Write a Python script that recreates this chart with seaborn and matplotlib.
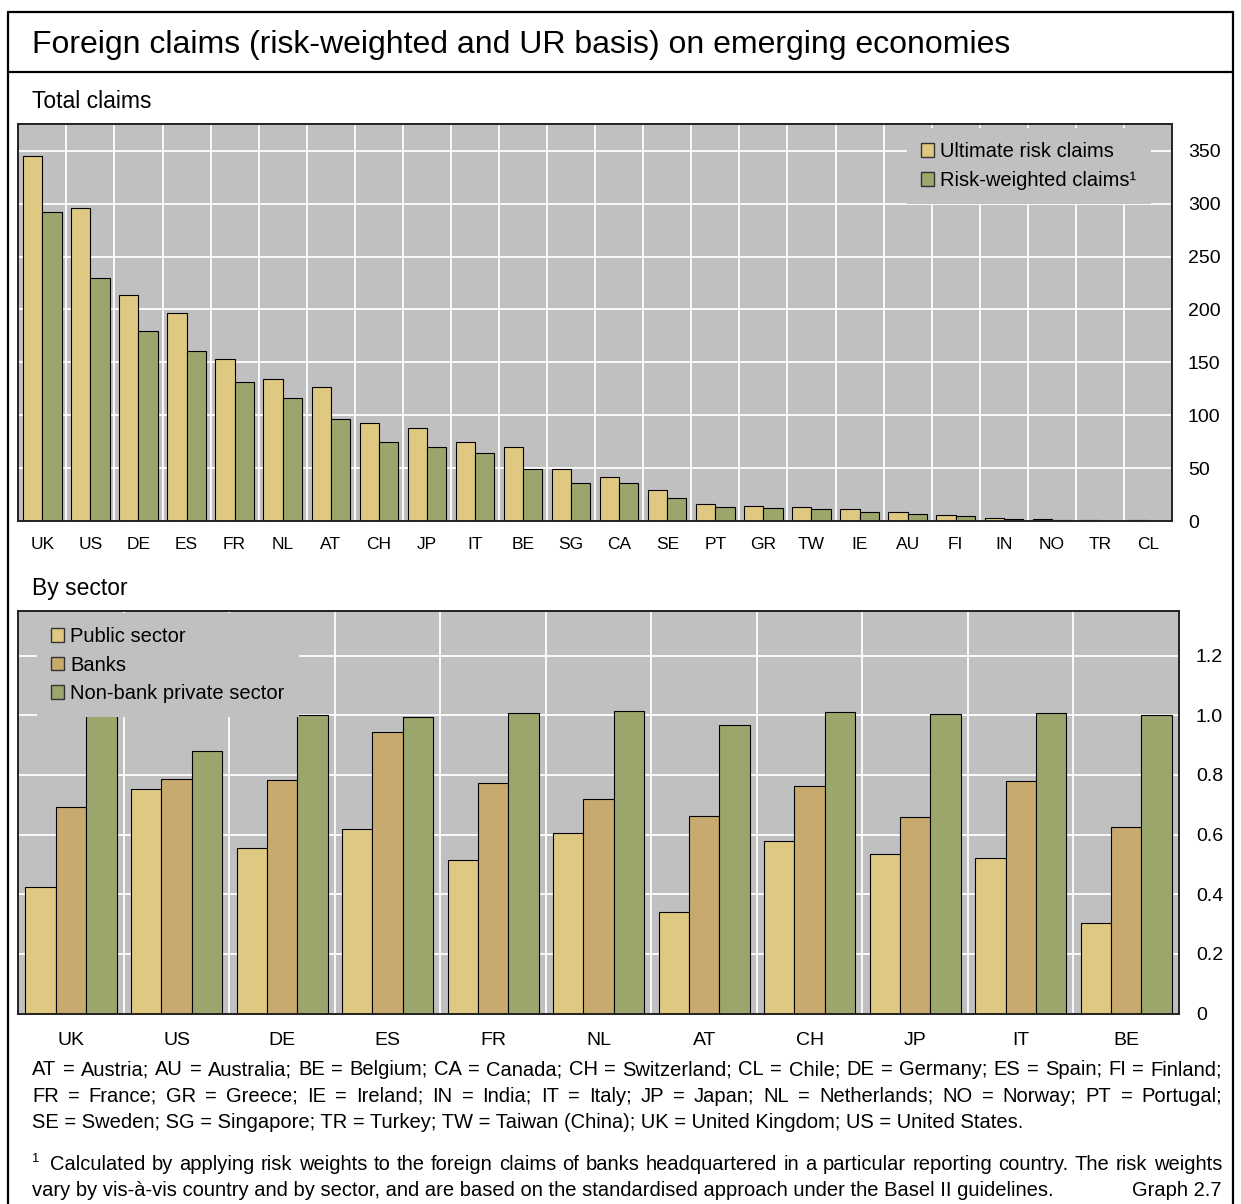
import numpy as np
import pandas as pd
import matplotlib
matplotlib.use("Agg")
import matplotlib.pyplot as plt
from matplotlib.patches import Patch
from matplotlib.lines import Line2D
import seaborn as sns

# ---------------- data ----------------
countries_total = ["UK", "US", "DE", "ES", "FR", "NL", "AT", "CH", "JP", "IT", "BE", "SG",
                   "CA", "SE", "PT", "GR", "TW", "IE", "AU", "FI", "IN", "NO", "TR", "CL"]
ur_claims = [345, 296, 214, 197, 153, 134, 127, 93, 88, 75, 70, 49,
             42, 29, 16, 14.5, 13.5, 11.7, 8.5, 5.4, 3.2, 1.5, 1.0, 0.6]
rw_claims = [292, 230, 180, 161, 131, 116, 96, 74.5, 70, 64, 49, 35.6,
             35.6, 22, 13.5, 12, 11.4, 8.2, 6.6, 4.7, 2.2, 1.3, 0.4, 0.3]
series_total = ["Ultimate risk claims", "Risk-weighted claims\u00b9"]

countries_sector = ["UK", "US", "DE", "ES", "FR", "NL", "AT", "CH", "JP", "IT", "BE"]
public_sector = [0.425, 0.753, 0.554, 0.620, 0.515, 0.607, 0.340, 0.579, 0.534, 0.521, 0.304]
banks = [0.694, 0.788, 0.783, 0.943, 0.773, 0.720, 0.664, 0.762, 0.658, 0.780, 0.626]
nonbank_private = [1.001, 0.882, 1.000, 0.993, 1.007, 1.013, 0.968, 1.011, 1.003, 1.009, 1.000]
series_sector = ["Public sector", "Banks", "Non-bank private sector"]

yticks_total = [0, 50, 100, 150, 200, 250, 300, 350]
yticks_sector = [0, 0.2, 0.4, 0.6, 0.8, 1.0, 1.2]
ytick_labels_sector = ["0", "0.2", "0.4", "0.6", "0.8", "1.0", "1.2"]

title = "Foreign claims (risk-weighted and UR basis) on emerging economies"
sub1 = "Total claims"
sub2 = "By sector"
notes_lines = [
    "AT = Austria; AU = Australia; BE = Belgium; CA = Canada; CH = Switzerland; CL = Chile; DE = Germany; ES = Spain; FI = Finland;",
    "FR = France; GR = Greece; IE = Ireland; IN = India; IT = Italy; JP = Japan; NL = Netherlands; NO = Norway; PT = Portugal;",
    "SE = Sweden; SG = Singapore; TR = Turkey; TW = Taiwan (China); UK = United Kingdom; US = United States.",
]
foot1 = "Calculated by applying risk weights to the foreign claims of banks headquartered in a particular reporting country. The risk weights"
foot2 = "vary by vis-\u00e0-vis country and by sector, and are based on the standardised approach under the Basel II guidelines."
graph_no = "Graph 2.7"

# ---------------- style ----------------
YELLOW = "#DFC882"
TAN = "#C8AA6E"
GREEN = "#9BA66D"
BG = "#C0C0C0"

sns.set_style("white")
plt.rcParams["font.family"] = ["Liberation Sans", "DejaVu Sans"]
plt.rcParams["text.color"] = "black"
plt.rcParams["axes.labelcolor"] = "black"
plt.rcParams["xtick.color"] = "black"
plt.rcParams["ytick.color"] = "black"

W, H = 1241, 1204
DPI = 100
fig = plt.figure(figsize=(W / DPI, H / DPI), dpi=DPI)


def fx(px):
    return px / W


def fy(py):
    return 1 - py / H


def axes_rect(x0, y0, x1, y1):
    return [fx(x0), fy(y1), fx(x1) - fx(x0), fy(y0) - fy(y1)]


def style_axes(ax, n, ypad):
    ax.set_facecolor(BG)
    ax.set_axisbelow(True)
    ax.set_xlim(-0.5, n - 0.5)
    ax.set_xticks(np.arange(0.5, n - 1, 1), minor=True)
    ax.xaxis.grid(False, which="major")
    ax.xaxis.grid(True, which="minor", color="white", lw=1.3)
    ax.yaxis.grid(True, which="major", color="white", lw=1.3)
    ax.yaxis.tick_right()
    ax.tick_params(axis="both", which="both", length=0)
    ax.tick_params(axis="y", pad=ypad, labelsize=14, colors="black")
    ax.tick_params(axis="x", colors="black")
    for s in ax.spines.values():
        s.set_color("#222222")
        s.set_linewidth(1.4)
        s.set_visible(True)
    ax.set_xlabel("")
    ax.set_ylabel("")


# ---------------- top chart ----------------
ax1 = fig.add_axes(axes_rect(18.3, 124.3, 1172, 521))
df_total = pd.DataFrame({
    "country": countries_total * 2,
    "value": ur_claims + rw_claims,
    "series": [series_total[0]] * len(countries_total) + [series_total[1]] * len(countries_total),
})
sns.barplot(data=df_total, x="country", y="value", hue="series", order=countries_total,
            hue_order=series_total, palette=[YELLOW, GREEN], saturation=1, width=0.8,
            edgecolor="black", linewidth=0.8, legend=False, ax=ax1)
style_axes(ax1, len(countries_total), 11.5)
ax1.set_ylim(0, 375)
ax1.set_yticks(yticks_total)
ax1.set_yticklabels([str(v) for v in yticks_total])
ax1.tick_params(axis="x", pad=11.5, labelsize=12.5)
h1 = [Patch(facecolor=c, edgecolor="#333333", lw=1.0) for c in [YELLOW, GREEN]]
leg1 = ax1.legend(h1, series_total, loc="upper left",
                  bbox_to_anchor=(fx(907), fy(128)), bbox_transform=fig.transFigure,
                  fontsize=14.5, frameon=True, facecolor=BG, edgecolor="none", framealpha=1,
                  fancybox=False, borderpad=0.7, handlelength=0.65, handleheight=0.65,
                  handletextpad=0.3, labelspacing=0.5, borderaxespad=0)

# ---------------- bottom chart ----------------
ax2 = fig.add_axes(axes_rect(18.3, 611, 1179, 1013.5))
n2 = len(countries_sector)
df_sector = pd.DataFrame({
    "country": countries_sector * 3,
    "value": public_sector + banks + nonbank_private,
    "series": [series_sector[0]] * n2 + [series_sector[1]] * n2 + [series_sector[2]] * n2,
})
sns.barplot(data=df_sector, x="country", y="value", hue="series", order=countries_sector,
            hue_order=series_sector, palette=[YELLOW, TAN, GREEN], saturation=1, width=0.864,
            edgecolor="black", linewidth=0.8, legend=False, ax=ax2)
style_axes(ax2, n2, 12.2)
ax2.set_ylim(0, 1.35)
ax2.set_yticks(yticks_sector)
ax2.set_yticklabels(ytick_labels_sector)
ax2.tick_params(axis="x", pad=13, labelsize=14)
h2 = [Patch(facecolor=c, edgecolor="#333333", lw=1.0) for c in [YELLOW, TAN, GREEN]]
leg2 = ax2.legend(h2, series_sector, loc="upper left",
                  bbox_to_anchor=(fx(37), fy(613)), bbox_transform=fig.transFigure,
                  fontsize=14.5, frameon=True, facecolor=BG, edgecolor="none", framealpha=1,
                  fancybox=False, borderpad=0.7, handlelength=0.65, handleheight=0.65,
                  handletextpad=0.3, labelspacing=0.47, borderaxespad=0)

# ---------------- frame & headings ----------------
lk = dict(color="black", lw=1.6, transform=fig.transFigure)
fig.add_artist(Line2D([fx(8), fx(8)], [fy(12), fy(1204)], **lk))
fig.add_artist(Line2D([fx(1233), fx(1233)], [fy(12), fy(1204)], **lk))
fig.add_artist(Line2D([fx(8), fx(1233)], [fy(12), fy(12)], **lk))
fig.add_artist(Line2D([fx(8), fx(1233)], [fy(72), fy(72)], **lk))

fig.text(fx(32), fy(52.5), title, fontsize=23, va="baseline", ha="left")
fig.text(fx(32), fy(107.5), sub1, fontsize=16.5, va="baseline", ha="left")
fig.text(fx(32), fy(595), sub2, fontsize=16.5, va="baseline", ha="left")

# ---------------- notes ----------------
renderer = fig.canvas.get_renderer()


def text_width(s, size):
    t = fig.text(0, 0, s, fontsize=size)
    w = t.get_window_extent(renderer).width
    t.remove()
    return w


note_size = 10 * 990 / text_width(notes_lines[2], 10)


def justified(s, x0, x1, y, size):
    words = s.split(" ")
    widths = [text_width(w, size) for w in words]
    gap = (x1 - x0 - sum(widths)) / (len(words) - 1)
    x = x0
    for w, wd in zip(words, widths):
        fig.text(fx(x), fy(y), w, fontsize=size, va="baseline", ha="left")
        x += wd + gap


justified(notes_lines[0], 32, 1222, 1075, note_size)
justified(notes_lines[1], 32, 1222, 1101.5, note_size)
fig.text(fx(32), fy(1127.5), notes_lines[2], fontsize=note_size, va="baseline", ha="left")

fig.text(fx(31), fy(1162), "1", fontsize=note_size * 0.65, va="baseline", ha="left")
justified(foot1, 50, 1222, 1170, note_size)
fig.text(fx(32), fy(1196), foot2, fontsize=note_size, va="baseline", ha="left")
fig.text(fx(1222), fy(1196), graph_no, fontsize=note_size, va="baseline", ha="right")

fig.savefig("out.png", dpi=DPI)
